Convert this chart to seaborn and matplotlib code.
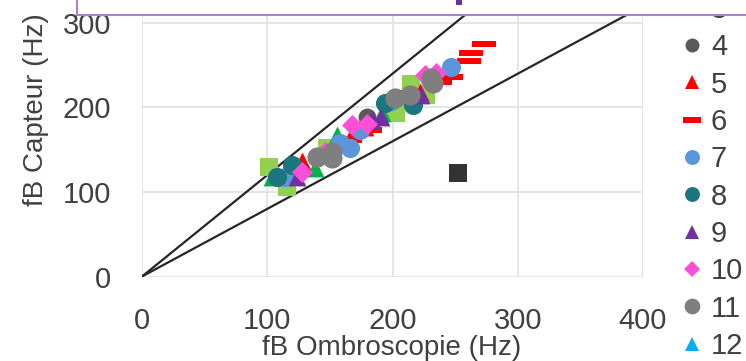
import matplotlib
matplotlib.use("Agg")
import matplotlib.pyplot as plt
from matplotlib.lines import Line2D
from matplotlib.patches import Rectangle
import numpy as np
import pandas as pd
import seaborn as sns

# values (Hz)
s1_x = [101, 116, 148, 203, 227, 215]
s1_y = [130, 106, 152, 193, 215, 228]
s2_x = [104, 138, 156, 192]
s2_y = [118, 128, 167, 193]
s3_x = []
s3_y = []
s4_x = [180]
s4_y = [189]
s5_x = [128, 166, 178, 222]
s5_y = [137, 164, 177, 218]
s6_x = [166, 182, 211, 238, 247, 261, 263, 273]
s6_y = [162, 173, 217, 230, 236, 255, 264, 275]
s7_x = [114, 158, 166, 174, 199, 230, 247]
s7_y = [118, 158, 152, 173, 208, 232, 248]
s8_x = [108, 120, 194, 216]
s8_y = [118, 132, 205, 203]
s9_x = [124, 184, 191, 223]
s9_y = [118, 185, 189, 215]
s10_x = [128, 146, 168, 180, 226, 235]
s10_y = [124, 147, 179, 181, 238, 241]
s11_x = [140, 152, 152, 202, 214, 232, 231]
s11_y = [142, 147, 140, 211, 215, 229, 235]
s12_x = []
s12_y = []
out_x = [252]
out_y = [122]

# +/- 20 % reference lines
ref_x = [0, 400]
ref_slopes = [1.2, 0.8]

dash = [(-1.7, -0.5), (1.7, -0.5), (1.7, 0.5), (-1.7, 0.5), (-1.7, -0.5)]

series = [
    ("1", s1_x, s1_y, "#92d050", "s", 150),
    ("2", s2_x, s2_y, "#00b050", "^", 165),
    ("3", s3_x, s3_y, "#2e9c8a", dash, 270),
    ("13", out_x, out_y, "#333333", "s", 150),
    ("4", s4_x, s4_y, "#595959", "o", 165),
    ("5", s5_x, s5_y, "#ff0000", "^", 165),
    ("6", s6_x, s6_y, "#ff0000", dash, 280),
    ("7", s7_x, s7_y, "#5b96dd", "o", 190),
    ("8", s8_x, s8_y, "#1c7680", "o", 190),
    ("9", s9_x, s9_y, "#7030a0", "^", 165),
    ("10", s10_x, s10_y, "#ff4fd8", "D", 115),
    ("11", s11_x, s11_y, "#7f7f7f", "o", 210),
    ("12", s12_x, s12_y, "#00b0f0", "^", 165),
]

sns.set_theme(style="white")
plt.rcParams["font.family"] = ["Liberation Sans", "DejaVu Sans"]
txt = "#404040"

fig = plt.figure(figsize=(7.46, 3.61), dpi=100)
ax = fig.add_axes([142 / 746, 84.5 / 361, 501 / 746, 350 * 0.845 / 361])

for k in ref_slopes:
    ax.plot(ref_x, [k * v for v in ref_x], color="#262626", lw=1.6, zorder=2)

for name, xs, ys, col, mk, size in series:
    if len(xs) == 0:
        continue
    df = pd.DataFrame({"x": xs, "y": ys})
    sns.scatterplot(data=df, x="x", y="y", color=col, marker=mk, s=size,
                    linewidth=0, ax=ax, zorder=3, legend=False)

ax.set_xlim(0, 400)
ax.set_ylim(0, 350)
ax.set_xticks([0, 100, 200, 300, 400])
ax.set_yticks([0, 100, 200, 300])
ax.grid(True, color="#e3e3e3", lw=1.3)
ax.set_axisbelow(True)
for sp in ax.spines.values():
    sp.set_visible(False)
ax.tick_params(axis="both", length=0, labelsize=21, labelcolor=txt)
ax.tick_params(axis="x", pad=22)
ax.tick_params(axis="y", pad=22)
ax.set_xlabel("")
ax.set_ylabel("")
fig.text(392 / 746, 1 - 348 / 361, "fB Ombroscopie (Hz)", fontsize=20,
         color=txt, ha="center", va="center")
fig.text(36 / 746, 1 - 110 / 361, "fB Capteur (Hz)", rotation=90, fontsize=20,
         color=txt, ha="center", va="center")

handles = []
for name, xs, ys, col, mk, size in series:
    if name in ("1", "2", "13"):
        continue
    handles.append(Line2D([], [], ls="", marker=mk, color=col, markeredgewidth=0,
                          markersize=np.sqrt(size) * 0.78, label=name))
fig.legend(handles=handles, loc="upper left", bbox_to_anchor=(676 / 746, 1 + 4 / 361),
           frameon=False, fontsize=21, labelspacing=0.32, handletextpad=0.1,
           handlelength=1.1, borderpad=0, borderaxespad=0, labelcolor=txt)

# box cut at the top of the picture
fig.patches.append(Rectangle((77 / 746, 1 - 15 / 361), 1.0, 0.2, transform=fig.transFigure,
                             facecolor="white", edgecolor="#a883cc", lw=1.5, zorder=10))
fig.patches.append(Rectangle((456 / 746, 1 - 5 / 361), 6 / 746, 6 / 361, transform=fig.transFigure,
                             facecolor="#7030a0", edgecolor="none", zorder=11))

fig.savefig("out.png", dpi=100)
